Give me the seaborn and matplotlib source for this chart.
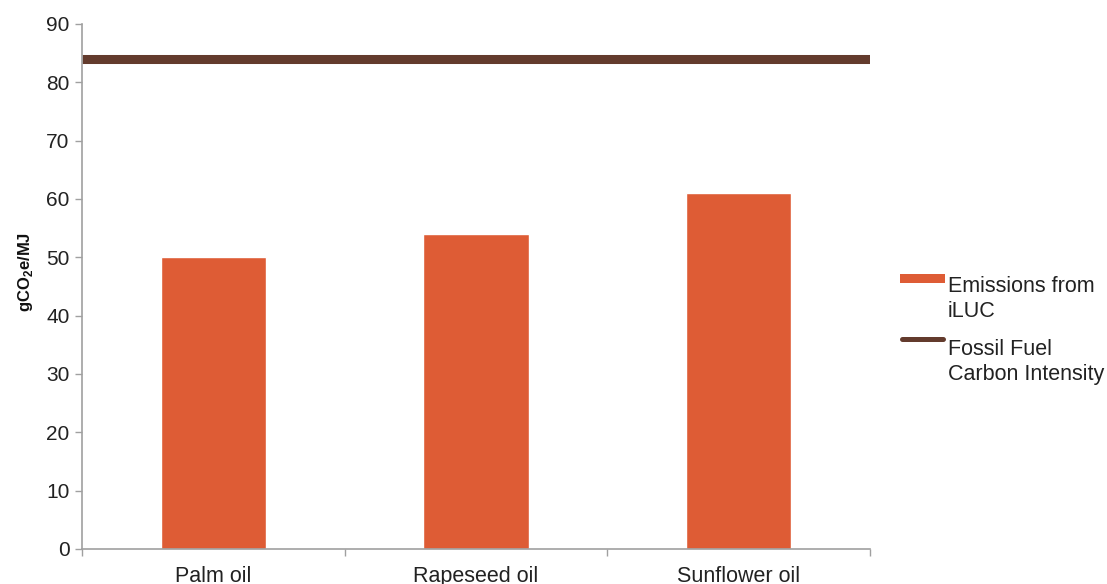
import matplotlib
matplotlib.use("Agg")
import matplotlib.pyplot as plt
import seaborn as sns
import pandas as pd
from matplotlib.ticker import FixedLocator
from matplotlib.legend_handler import HandlerBase
from matplotlib.patches import Rectangle
from matplotlib.lines import Line2D

categories = ["Palm oil", "Rapeseed oil", "Sunflower oil"]
iluc_emissions = [50, 54, 61]
fossil_fuel_ci = 84
y_ticks = [0, 10, 20, 30, 40, 50, 60, 70, 80, 90]
bar_label = "Emissions from\niLUC"
line_label = "Fossil Fuel\nCarbon Intensity"

bar_color = "#DE5C35"
line_color = "#633B2D"
axis_color = "#A0A0A0"
text_color = "#222222"

sns.set_theme(style="white")
plt.rcParams["font.family"] = ["Liberation Sans", "DejaVu Sans"]
plt.rcParams["mathtext.fontset"] = "custom"
plt.rcParams["mathtext.rm"] = "Liberation Sans"
plt.rcParams["mathtext.bf"] = "Liberation Sans:bold"


class TopPatchHandler(HandlerBase):
    def create_artists(self, legend, orig_handle, xdescent, ydescent,
                       width, height, fontsize, trans):
        th = 6.5
        yc = -ydescent + height / 2 + fontsize * 0.98
        r = Rectangle((-xdescent, yc - th / 2), width, th,
                      facecolor=bar_color, edgecolor="none", transform=trans)
        return [r]


class TopLineHandler(HandlerBase):
    def create_artists(self, legend, orig_handle, xdescent, ydescent,
                       width, height, fontsize, trans):
        yc = -ydescent + height / 2 + fontsize * 1.1
        ln = Line2D([-xdescent + 1.5, -xdescent + width - 1.5], [yc, yc],
                    color=line_color, linewidth=3.6, solid_capstyle="round",
                    transform=trans)
        return [ln]


df = pd.DataFrame({"category": categories, "value": iluc_emissions})

fig = plt.figure(figsize=(11.07, 5.84), dpi=100)
ax = fig.add_axes([0.074, 0.06, 0.712, 0.899])

sns.barplot(data=df, x="category", y="value", color=bar_color, width=0.4,
            saturation=1, ax=ax)
line = ax.hlines(fossil_fuel_ci, -0.5, len(categories) - 0.5, color=line_color,
                 linewidth=6.5)

ax.set_xlim(-0.5, len(categories) - 0.5)
ax.set_ylim(0, 90)
ax.set_yticks(y_ticks)
ax.tick_params(axis="y", labelsize=15, labelcolor=text_color, length=5, width=1,
               color=axis_color, direction="out", left=True, pad=4)
ax.tick_params(axis="x", labelsize=15.5, labelcolor=text_color, length=0, pad=12)
ax.xaxis.set_minor_locator(FixedLocator([-0.5, 0.5, 1.5, 2.5]))
ax.tick_params(axis="x", which="minor", bottom=True, length=5, width=1,
               color=axis_color, direction="out")

for s in ["top", "right"]:
    ax.spines[s].set_visible(False)
for s in ["left", "bottom"]:
    ax.spines[s].set_color(axis_color)
    ax.spines[s].set_linewidth(1.2)

ax.set_xlabel("")
ax.set_ylabel(r"gCO$_\mathbf{2}$e/MJ", fontsize=12, fontweight="bold",
              color="#111111")
ax.yaxis.set_label_coords(-0.060, 0.528)

bar_handle = Rectangle((0, 0), 1, 1, color=bar_color)
leg = fig.legend([bar_handle, line], [bar_label, line_label],
                 loc="upper left", bbox_to_anchor=(900 / 1107, 1 - 276 / 584),
                 bbox_transform=fig.transFigure, frameon=False,
                 fontsize=15.5, handlelength=2.1, handletextpad=0.12,
                 labelspacing=0.75, borderpad=0, borderaxespad=0,
                 handler_map={Rectangle: TopPatchHandler(),
                              type(line): TopLineHandler()})
for t in leg.get_texts():
    t.set_color(text_color)
    t.set_linespacing(1.28)

fig.savefig("out.png", dpi=100, facecolor="white")
